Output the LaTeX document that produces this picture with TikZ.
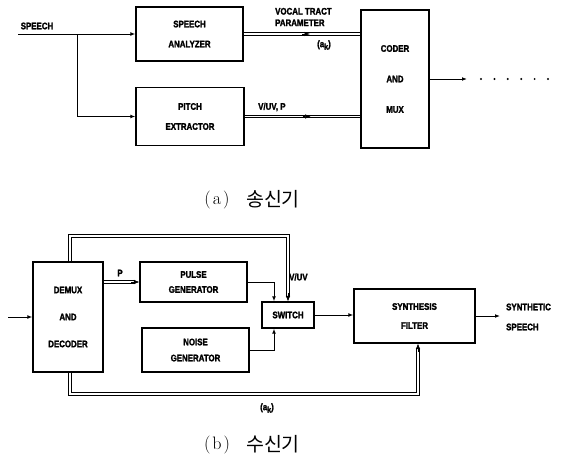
\documentclass[tikz,border=0pt]{standalone}
\usepackage{fontspec}
\newfontfamily\labfont[FakeStretch=0.83,FakeBold=2]{Liberation Sans Bold}
\newfontfamily\krfont{Noto Sans CJK KR}
\usetikzlibrary{arrows.meta,calc}
\begin{document}
\begin{tikzpicture}[x=1pt,y=-1pt,
  box/.style={draw,line width=1.2pt,inner sep=0pt,align=center,minimum width=#1},
  lbl/.style={font={\labfont\fontsize{9.5}{#1}\selectfont}},
  wire/.style={line width=1pt},
  tip/.style={-{Latex[length=5pt,width=3.8pt]}},
  bus/.style={line width=1pt,double,double distance=1.2pt},
  bustip/.style={line width=0.6pt,-{Latex[length=5.5pt,width=4.6pt]}},
  txt/.style={inner sep=0pt,align=left,lbl=#1}
]
\path[use as bounding box] (0,0) rectangle (565,466);

% ---------- (a) transmitter ----------
\node[box=107pt,minimum height=54pt,lbl=20pt] (ana) at (189.5,34) {SPEECH\\ANALYZER};
\node[box=108pt,minimum height=58pt,lbl=20pt] (pit) at (190,116.5) {PITCH\\EXTRACTOR};
\node[box=68pt,minimum height=138pt,lbl=30.5pt] (cod) at (395,79) {CODER\\AND\\MUX};

\coordinate (in) at (18,34);
\coordinate (br) at (77,34);
\coordinate (out) at (467,79);
\node[txt=12pt,anchor=center] (lspeech) at (37,26) {SPEECH};

\draw[wire,tip] (in) -- (ana.west);
\draw[wire,tip] (br) |- (pit.west);
\draw[bus] (ana.east) -- (ana.east -| cod.west);
\draw[bustip] ($(ana.east)!0.5!(ana.east -| cod.west)$) -- ++(8,0);
\draw[bus] (pit.east) -- (pit.east -| cod.west);
\draw[bustip] ($(pit.east)!0.5!(pit.east -| cod.west)$) -- ++(8,0);
\draw[wire,tip] (cod.east) -- (out);
\foreach \i in {0,...,5} \fill (481+13.4*\i,79) circle (1.1pt);

\node[txt=11.5pt,anchor=west] (lvt) at (275,17) {VOCAL TRACT\\PARAMETER};
\node[txt=11pt,anchor=center] (lak1) at (324,45) {(a\raisebox{-2.5pt}{\fontsize{8.5}{9}\selectfont k})};
\node[txt=11pt,anchor=west] (lvp) at (258,107) {V/UV, P};

\node[inner sep=0pt,font=\fontsize{18}{20}\selectfont] (capa) at (217,200) {(\kern2pt a\kern2pt)};
\node[inner sep=0pt,font=\krfont\fontsize{19.5}{22}\selectfont] (capak) at (273,199) {송신기};

% ---------- (b) receiver ----------
\node[box=70pt,minimum height=110pt,lbl=27pt] (dem) at (68,317) {DEMUX\\AND\\DECODER};
\node[box=107pt,minimum height=40pt,lbl=15pt] (pul) at (193.5,282) {PULSE\\GENERATOR};
\node[box=107pt,minimum height=44pt,lbl=16pt] (noi) at (195.5,350) {NOISE\\GENERATOR};
\node[box=52pt,minimum height=26pt,lbl=12pt] (swi) at (288,315) {SWITCH};
\node[box=121pt,minimum height=54pt,lbl=19pt] (syn) at (414.5,316) {SYNTHESIS\\FILTER};

\coordinate (in2) at (8,317);
\coordinate (top) at (288,236);
\coordinate (bot) at (418,394);
\coordinate (so) at (500,316);

\draw[wire,tip] (in2) -- (dem.west);
\draw[bus] (dem.east |- pul.west) -- ([xshift=-4pt]pul.west);
\draw[bustip] ([xshift=-8pt]pul.west) -- (pul.west);
\draw[bus] ([xshift=2pt]dem.north) |- (top) -- ([yshift=4pt]swi.north);
\draw[bustip] ([yshift=8pt]swi.north) -- (swi.north);
\draw[wire,tip] (pul.east) -| ([xshift=-14pt]swi.north);
\draw[wire,tip] (noi.east) -| ([xshift=-14pt]swi.south);
\draw[wire,tip] (swi.east) -- (swi.east -| syn.west);
\draw[wire,tip] (syn.east) -- (so);
\draw[bus] ([xshift=2pt]dem.south) |- (bot) -- ([yshift=-4pt]syn.south -| bot);
\draw[bustip] ([yshift=-8pt]syn.south -| bot) -- (syn.south -| bot);

\node[txt=11pt,anchor=center] (lp) at (120,273) {P};
\node[txt=11pt,anchor=west] (lvuv) at (289,277) {V/UV};
\node[txt=11pt,anchor=center] (lak2) at (267,408) {(a\raisebox{-2.5pt}{\fontsize{8.5}{9}\selectfont k})};
\node[txt=20pt,anchor=west] (lss) at (506,317) {SYNTHETIC\\SPEECH};

\node[inner sep=0pt,font=\fontsize{18}{20}\selectfont] (capb) at (217,445) {(\kern2pt b\kern2pt)};
\node[inner sep=0pt,font=\krfont\fontsize{19.5}{22}\selectfont] (capbk) at (273,444) {수신기};
\end{tikzpicture}
\end{document}
